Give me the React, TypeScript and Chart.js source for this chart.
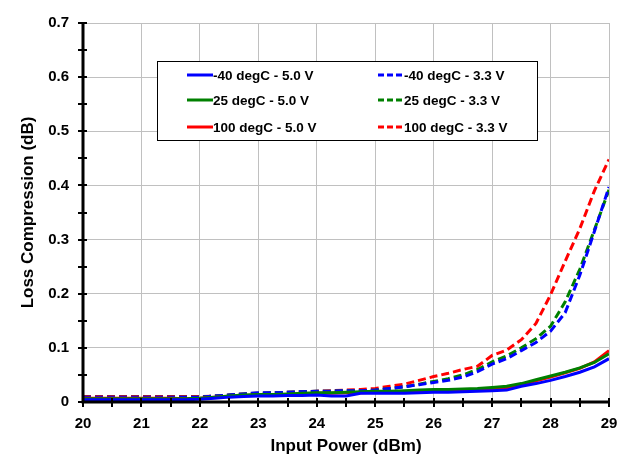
import React, { useEffect, useRef } from "react";
import { Chart, registerables } from "chart.js";

Chart.register(...registerables);

const inputPower = [
  20, 20.25, 20.5, 20.75, 21, 21.25, 21.5, 21.75, 22, 22.25, 22.5, 22.75, 23, 23.25, 23.5, 23.75,
  24, 24.25, 24.5, 24.75, 25, 25.25, 25.5, 25.75, 26, 26.25, 26.5, 26.75, 27, 27.25, 27.5, 27.75,
  28, 28.25, 28.5, 28.75, 29,
];

const m40_50V = [
  0.004, 0.004, 0.004, 0.004, 0.004, 0.004, 0.004, 0.004, 0.005, 0.007, 0.009, 0.01, 0.011, 0.011, 0.012, 0.012,
  0.013, 0.011, 0.011, 0.016, 0.016, 0.016, 0.016, 0.017, 0.018, 0.018, 0.019, 0.02, 0.021, 0.022, 0.029, 0.034,
  0.04, 0.047, 0.055, 0.065, 0.08,
];
const p25_50V = [
  0.006, 0.006, 0.006, 0.006, 0.006, 0.006, 0.006, 0.006, 0.007, 0.009, 0.011, 0.013, 0.014, 0.014, 0.015, 0.016,
  0.017, 0.017, 0.018, 0.019, 0.02, 0.02, 0.021, 0.022, 0.023, 0.023, 0.024, 0.025, 0.027, 0.029, 0.034, 0.041,
  0.048, 0.055, 0.063, 0.073, 0.089,
];
const p100_50V = [
  0.007, 0.007, 0.007, 0.007, 0.007, 0.007, 0.007, 0.006, 0.007, 0.009, 0.01, 0.012, 0.013, 0.013, 0.014, 0.015,
  0.016, 0.016, 0.017, 0.017, 0.018, 0.018, 0.019, 0.02, 0.021, 0.021, 0.021, 0.022, 0.024, 0.026, 0.032, 0.039,
  0.046, 0.054, 0.062, 0.074, 0.095,
];
const m40_33V = [
  0.009, 0.009, 0.009, 0.009, 0.009, 0.009, 0.009, 0.009, 0.009, 0.011, 0.013, 0.015, 0.017, 0.017, 0.018, 0.019,
  0.02, 0.02, 0.021, 0.021, 0.022, 0.025, 0.028, 0.032, 0.036, 0.04, 0.046, 0.056, 0.07, 0.08, 0.095, 0.11,
  0.131, 0.165, 0.234, 0.315, 0.397,
];
const p25_33V = [
  0.009, 0.009, 0.009, 0.009, 0.009, 0.009, 0.009, 0.009, 0.009, 0.011, 0.013, 0.015, 0.016, 0.017, 0.018, 0.019,
  0.02, 0.02, 0.021, 0.021, 0.022, 0.025, 0.028, 0.033, 0.038, 0.043, 0.05, 0.06, 0.074, 0.085, 0.1, 0.117,
  0.14, 0.185, 0.245, 0.318, 0.392,
];
const p100_33V = [
  0.01, 0.01, 0.01, 0.01, 0.01, 0.01, 0.01, 0.01, 0.01, 0.011, 0.013, 0.015, 0.016, 0.017, 0.018, 0.019,
  0.02, 0.021, 0.022, 0.023, 0.025, 0.029, 0.033, 0.04, 0.047, 0.053, 0.06, 0.066, 0.086, 0.096, 0.115, 0.145,
  0.198, 0.26, 0.32, 0.39, 0.448,
];

const seriesLabels = [
  "-40 degC - 5.0 V",
  "25 degC - 5.0 V",
  "100 degC - 5.0 V",
  "-40 degC - 3.3 V",
  "25 degC - 3.3 V",
  "100 degC - 3.3 V",
];
const seriesColors = ["#0000ff", "#008000", "#ff0000", "#0000ff", "#008000", "#ff0000"];
const seriesDashed = [false, false, false, true, true, true];
const seriesValues = [m40_50V, p25_50V, p100_50V, m40_33V, p25_33V, p100_33V];

const xTitle = "Input Power (dBm)";
const yTitle = "Loss Compression (dB)";

const FONT = "Arial, 'Liberation Sans', sans-serif";
const DASH = [8, 4];

const axisTicksPlugin = {
  id: "axisTicks",
  afterDatasetsDraw(chart: any) {
    const { ctx, chartArea, scales } = chart;
    const x = scales.x;
    const y = scales.y;
    ctx.save();
    ctx.strokeStyle = "#000";
    ctx.lineWidth = 2;
    for (let v = 0; v <= 0.7001; v += 0.05) {
      const py = Math.round(y.getPixelForValue(v));
      ctx.beginPath();
      ctx.moveTo(chartArea.left - 5, py);
      ctx.lineTo(chartArea.left + 4, py);
      ctx.stroke();
    }
    for (let v = 20; v <= 29.001; v += 0.5) {
      const px = Math.round(x.getPixelForValue(v));
      ctx.beginPath();
      ctx.moveTo(px, chartArea.bottom - 4);
      ctx.lineTo(px, chartArea.bottom + 5);
      ctx.stroke();
    }
    ctx.lineWidth = 3;
    ctx.beginPath();
    ctx.moveTo(chartArea.left, chartArea.top - 1);
    ctx.lineTo(chartArea.left, chartArea.bottom);
    ctx.lineTo(chartArea.right + 1, chartArea.bottom);
    ctx.stroke();
    ctx.restore();
  },
};

const legendBoxPlugin = {
  id: "legendBox",
  afterDraw(chart: any) {
    const { ctx, chartArea } = chart;
    const bx = chartArea.left + 74;
    const by = chartArea.top + 38;
    const bw = 380;
    const bh = 79;
    ctx.save();
    ctx.fillStyle = "#fff";
    ctx.fillRect(bx, by, bw, bh);
    ctx.strokeStyle = "#000";
    ctx.lineWidth = 1;
    ctx.strokeRect(bx + 0.5, by + 0.5, bw, bh);
    const rows = [14, 39, 66];
    const cols = [30, 221];
    ctx.font = `bold 13.5px ${FONT}`;
    ctx.textBaseline = "middle";
    ctx.textAlign = "left";
    chart.data.datasets.forEach((ds: any, i: number) => {
      const col = cols[Math.floor(i / 3)];
      const row = rows[i % 3];
      const lx = bx + col;
      const ly = by + row;
      ctx.strokeStyle = ds.borderColor;
      ctx.lineWidth = 3;
      ctx.setLineDash(ds.borderDash && ds.borderDash.length ? [6, 3] : []);
      ctx.beginPath();
      ctx.moveTo(lx, ly);
      ctx.lineTo(lx + 26, ly);
      ctx.stroke();
      ctx.setLineDash([]);
      ctx.fillStyle = "#000";
      ctx.fillText(ds.label, lx + 26, ly + 1);
    });
    ctx.restore();
  },
};

export default function App() {
  const canvasRef = useRef<HTMLCanvasElement | null>(null);

  useEffect(() => {
    if (!canvasRef.current) return;
    const datasets = seriesLabels.map((label, i) => ({
      label,
      data: inputPower.map((xv, j) => ({ x: xv, y: seriesValues[i][j] })),
      borderColor: seriesColors[i],
      backgroundColor: seriesColors[i],
      borderWidth: 3,
      borderDash: seriesDashed[i] ? DASH : [],
      pointRadius: 0,
      tension: 0,
      fill: false,
    }));
    const chart = new Chart(canvasRef.current, {
      type: "line",
      data: { datasets },
      plugins: [axisTicksPlugin, legendBoxPlugin],
      options: {
        responsive: false,
        animation: false,
        events: [],
        layout: { padding: { left: 18, right: 22, top: 16, bottom: 0 } },
        plugins: {
          legend: { display: false },
          tooltip: { enabled: false },
          title: { display: false },
        },
        scales: {
          x: {
            type: "linear",
            min: 20,
            max: 29,
            afterFit: (s: any) => {
              s.height = 52;
            },
            ticks: {
              stepSize: 0.5,
              autoSkip: false,
              maxRotation: 0,
              color: "#000",
              padding: 13,
              font: { family: FONT, size: 15, weight: "bold" },
              callback: (v: any) => (Number.isInteger(Number(v)) ? String(v) : ""),
            },
            grid: {
              drawTicks: false,
              color: (c: any) =>
                c.tick && Number.isInteger(c.tick.value) && c.tick.value !== 20 ? "#c0c0c0" : "rgba(0,0,0,0)",
              lineWidth: 1,
            },
            border: { display: false },
            title: {
              display: true,
              text: xTitle,
              color: "#000",
              font: { family: FONT, size: 17, weight: "bold" },
              padding: { top: 0, bottom: -3 },
            },
          },
          y: {
            type: "linear",
            min: 0,
            max: 0.7,
            afterFit: (s: any) => {
              s.width = 65;
            },
            ticks: {
              stepSize: 0.05,
              autoSkip: false,
              color: "#000",
              padding: 14,
              font: { family: FONT, size: 15, weight: "bold" },
              callback: (v: any) => {
                const n = Math.round(Number(v) * 100);
                if (n % 10 !== 0) return "";
                return n === 0 ? "0" : (n / 100).toFixed(1);
              },
            },
            grid: {
              drawTicks: false,
              color: (c: any) => {
                if (!c.tick) return "rgba(0,0,0,0)";
                const n = Math.round(c.tick.value * 100);
                return n % 10 === 0 && n !== 0 ? "#c0c0c0" : "rgba(0,0,0,0)";
              },
              lineWidth: 1,
            },
            border: { display: false },
            title: {
              display: true,
              text: yTitle,
              color: "#000",
              font: { family: FONT, size: 17, weight: "bold" },
              padding: { top: 0, bottom: 0 },
            },
          },
        },
      },
    });
    return () => chart.destroy();
  }, []);

  return (
    <div style={{ position: "absolute", left: 0, top: 0, width: 631, height: 454, background: "#fff" }}>
      <canvas ref={canvasRef} width={631} height={454} style={{ display: "block" }} />
    </div>
  );
}
